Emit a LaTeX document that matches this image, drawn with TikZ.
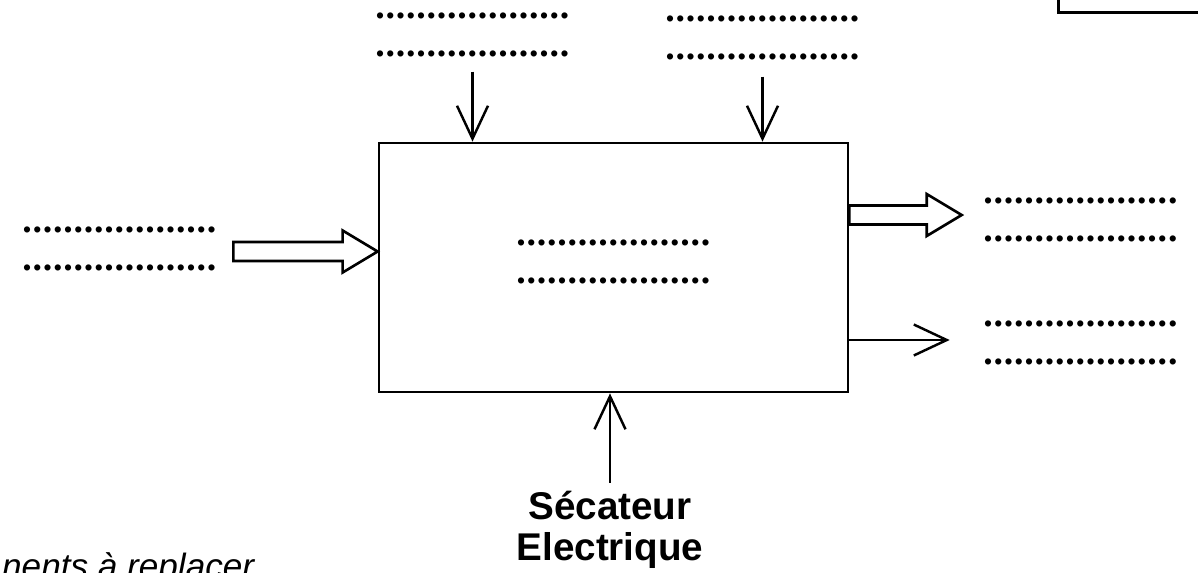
\documentclass[tikz,border=0pt]{standalone}
\usepackage{fontspec}
\setmainfont{Liberation Sans}
\usetikzlibrary{arrows.meta,positioning,calc}

% one row of blanks to fill in
\newcommand{\dotrow}{\hbox to 3.9cm{\leaders\hbox to 0.2052cm{\hss\textbullet\hss}\hfill}}
% wide hollow arrow, horizontal, from #1 to #2
\newcommand{\hollowarrow}[2]{%
  \draw[hollow] let \p1=#1, \p2=#2 in
    (\x1,\y1+0.19cm) -- (\x2-0.7cm,\y1+0.19cm) -- (\x2-0.7cm,\y1+0.42cm)
    -- (\x2,\y1) -- (\x2-0.7cm,\y1-0.42cm) -- (\x2-0.7cm,\y1-0.19cm)
    -- (\x1,\y1-0.19cm) -- cycle;}

\begin{document}
\begin{tikzpicture}[
    x=0.02cm, y=-0.02cm,
    blank/.style={inner sep=0pt, align=left, font=\fontsize{13}{21.5}\selectfont},
    sysbox/.style={draw, line width=1.6pt, minimum width=9.38cm, minimum height=4.98cm},
    arr/.style={-{Straight Barb[length=0.66cm, width=0.62cm, line width=1.4pt]}, line width=1.4pt},
    hollow/.style={line width=1.5pt, line join=miter},
]
\useasboundingbox (0,0) rectangle (1198,572);

% System box and its function
\node[sysbox] (sys) at (613.5,267.5) {};
\node[blank] (func) at (613.5,264.5) {\dotrow\\\dotrow};

% Control inputs (top)
\node[blank] (ctrl_a) at (472.5,37) {\dotrow\\\dotrow};
\node[blank] (ctrl_b) at (762.5,40) {\dotrow\\\dotrow};

% Main input (left) and outputs (right)
\node[blank] (in_main) at (119.5,251.5) {\dotrow\\\dotrow};
\node[blank] (out_a) at (1080.5,222) {\dotrow\\\dotrow};
\node[blank] (out_b) at (1080.5,345.5) {\dotrow\\\dotrow};

% Support (bottom)
\node[font=\bfseries\fontsize{22}{23}\selectfont, align=center, inner sep=2pt]
    (support) at (610,530) {Sécateur\\Electrique};

% Note, cut at the page edge
\node[anchor=base west, font=\itshape\fontsize{20}{24}\selectfont] (note) at (-4,578) {nents à replacer};

% Corner of a frame, top right
\node[draw, line width=1.6pt, anchor=south west, minimum width=4cm, minimum height=1.5cm]
    (cartouche) at (1057,14) {};

% ── Arrows ──
\draw[arr, shorten <=0.2cm] (ctrl_a.south) -- (ctrl_a.south |- sys.north);
\draw[arr, shorten <=0.24cm] (ctrl_b.south) -- (ctrl_b.south |- sys.north);
\draw[arr, shorten <=0.1cm] (support.north) -- (support.north |- sys.south);

\hollowarrow{($(in_main.east)+(0.32cm,0)$)}{(in_main.east -| sys.west)}

\coordinate (out_a_tip) at ($(out_a.west)+(-0.42cm,0.14cm)$);
\hollowarrow{(sys.east |- out_a_tip)}{(out_a_tip)}

\coordinate (out_b_tip) at ($(out_b.west)+(-0.66cm,0.11cm)$);
\draw[arr] (sys.east |- out_b_tip) -- (out_b_tip);

\end{tikzpicture}
\end{document}
